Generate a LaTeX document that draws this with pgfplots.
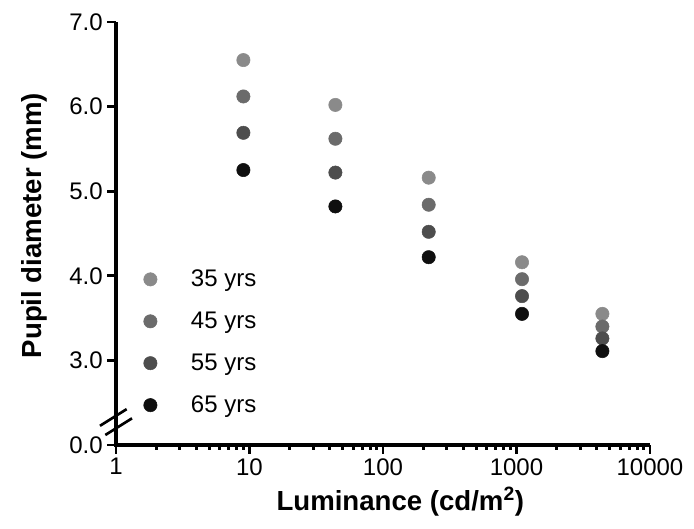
\documentclass[border=0pt]{standalone}
\usepackage{pgfplots}
\pgfplotsset{compat=1.18}
\usepackage{fontspec}
\setmainfont{Liberation Sans}
\definecolor{c35}{HTML}{8A8A8A}
\definecolor{c45}{HTML}{6B6B6B}
\definecolor{c55}{HTML}{4D4D4D}
\definecolor{c65}{HTML}{0F0F0F}
\pgfplotsset{legmark/.style={legend image code/.code={\path[draw=none,fill=none] (0cm,-0.2cm) rectangle (1.40cm,0.2cm); \draw[##1] plot[only marks] coordinates {(0.4cm,0cm)};}}}
\begin{document}
\begin{tikzpicture}
\useasboundingbox (-87pt,-63pt) rectangle (433.5pt,333.75pt);
\begin{axis}[
  at={(0,0)}, anchor=south west,
  scale only axis, width=400.5pt, height=317.25pt,
  xmode=log, xmin=1, xmax=10000, ymin=2, ymax=7,
  axis lines*=left,
  axis line style={line width=2.2pt},
  every tick/.append style={line width=2.2pt, black},
  tick align=outside,
  major tick length=6.5pt, minor tick length=3.5pt,
  xtick={1,10,100,1000,10000},
  xticklabels={1,10,100,1000,10000},
  minor xtick={2,3,4,5,6,7,8,9,20,30,40,50,60,70,80,90,200,300,400,500,600,700,800,900,2000,3000,4000,5000,6000,7000,8000,9000},
  ytick={2,3,4,5,6,7},
  yticklabels={0.0,3.0,4.0,5.0,6.0,7.0},
  tick label style={font=\fontsize{18}{21}\selectfont},
  /pgf/number format/assume math mode=true,
  xlabel={\textbf{Luminance (cd/m\textsuperscript{2})}},
  ylabel={\textbf{Pupil diameter (mm)}},
  label style={font=\fontsize{20.7}{24}\selectfont},
  xlabel style={yshift=-2pt, xshift=13pt},
  ylabel style={yshift=10pt, xshift=6pt},
  clip=false,
  legend cell align=left,
  legend style={draw=none, fill=none, at={(rel axis cs:0.028,0.427)}, anchor=north west,
    font=\fontsize{18}{21}\selectfont, row sep=13.5pt},
]
\addplot[only marks, mark=*, mark size=5pt, color=c35, legmark] coordinates {(9,6.55) (44,6.02) (220,5.16) (1100,4.16) (4400,3.55)};
\addlegendentry{35 yrs}
\addplot[only marks, mark=*, mark size=5pt, color=c45, legmark] coordinates {(9,6.12) (44,5.62) (220,4.84) (1100,3.96) (4400,3.40)};
\addlegendentry{45 yrs}
\addplot[only marks, mark=*, mark size=5pt, color=c55, legmark] coordinates {(9,5.69) (44,5.22) (220,4.52) (1100,3.76) (4400,3.26)};
\addlegendentry{55 yrs}
\addplot[only marks, mark=*, mark size=5pt, color=c65, legmark] coordinates {(9,5.25) (44,4.82) (220,4.22) (1100,3.55) (4400,3.11)};
\addlegendentry{65 yrs}
\coordinate (TL) at (rel axis cs:0,1);
\coordinate (BL) at (rel axis cs:0,0);
\coordinate (BR) at (rel axis cs:1,0);
\end{axis}
\draw[line width=3pt, line cap=butt] (TL) -- (BL);
\draw[line width=3pt, line cap=butt] ([xshift=-1.5pt]BL) -- (BR);
\draw[line width=2pt] ([xshift=-12pt,yshift=14.4pt]BL) -- ++(20pt,12.5pt);
\draw[line width=2pt] ([xshift=-8pt,yshift=7.5pt]BL) -- ++(20pt,12.5pt);
\end{tikzpicture}
\end{document}
